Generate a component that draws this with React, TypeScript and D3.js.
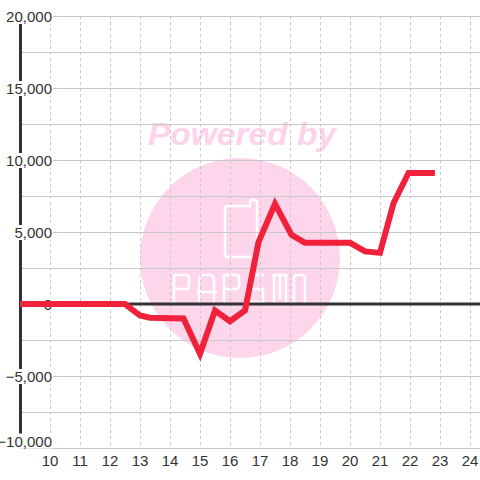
import React from "react";
import * as d3 from "d3";

const xValues = [9, 12.5, 13, 13.33, 14.45, 15, 15.5, 16, 16.5, 16.95, 17.5, 18.05, 18.5, 20, 20.5, 21, 21.45, 21.95, 22.83];
const yValues = [0, 0, -800, -950, -1000, -3450, -450, -1200, -450, 4300, 6950, 4800, 4250, 4250, 3650, 3550, 7000, 9100, 9100];
const xTicks = [10, 11, 12, 13, 14, 15, 16, 17, 18, 19, 20, 21, 22, 23, 24];
const yTicks = [-10000, -5000, 0, 5000, 10000, 15000, 20000];
const yGrid = [-10000, -7500, -5000, -2500, 0, 2500, 5000, 7500, 10000, 12500, 15000, 17500, 20000];

const W = 480;
const H = 480;

const logoLetters = [
  // P
  "M174,304 L174,275 L186,275 Q189,275 189,278 L189,286 Q189,289 186,289 L174,289",
  // A-like
  "M199,304 L199,280 Q199,275 204,275 L209,275 Q214,275 214,280 L214,304 M197,292 L217,292",
  // P
  "M224,304 L224,275 L236,275 Q239,275 239,278 L239,286 Q239,289 236,289 L224,289",
  // S-like
  "M264,275 L252,275 L252,289 L263,289 L263,302 L250,302",
  // M
  "M274,304 L274,275 L286,275 L286,304 M280,275 L280,300",
  // O
  "M294,278 Q294,275 297,275 L302,275 Q305,275 305,278 L305,304 M294,278 L294,304",
];

export default function App() {
  const x = d3.scaleLinear().domain([9, 24.3333]).range([20, 480]);
  const y = d3.scaleLinear().domain([-10000, 20000]).range([448, 16]);
  const fmt = d3.format(",");
  const line = d3
    .line<number>()
    .x((_, i) => x(xValues[i]))
    .y((d) => y(d));
  const font = "'Liberation Sans', Arial, sans-serif";
  return (
    <svg width={W} height={H} style={{ position: "absolute", left: 0, top: 0, background: "#fff" }}>
      <rect x={0} y={0} width={W} height={H} fill="#fff" />
      {/* watermark */}
      <circle cx={240} cy={258} r={100} fill="#fdd6ec" />
      <text
        x={148}
        y={145}
        fontFamily={font}
        fontWeight="bold"
        fontStyle="italic"
        fontSize={32}
        fill="#fcd3ea"
        textLength={188}
        lengthAdjust="spacingAndGlyphs"
      >
        Powered by
      </text>
      <path
        d="M228,206 L250,206 L250,202 Q250,200 252,200 L254,200 Q257,200 257,203 L257,254 Q257,257 254,257 L228,257 Q225,257 225,254 L225,209 Q225,206 228,206 Z"
        fill="none"
        stroke="#fff"
        strokeWidth={2.5}
      />
      {logoLetters.map((d, i) => (
        <path key={"lg" + i} d={d} fill="none" stroke="#fff" strokeWidth={2.5} />
      ))}
      {/* grid */}
      {yGrid.map((v) => (
        <line key={"h" + v} x1={20} x2={480} y1={y(v) + 0.5} y2={y(v) + 0.5} stroke="#c8c8c8" strokeWidth={1} />
      ))}
      {xTicks.map((v) => (
        <line
          key={"v" + v}
          x1={x(v) + 0.5}
          x2={x(v) + 0.5}
          y1={16}
          y2={448}
          stroke="#c8c8c8"
          strokeWidth={1}
          strokeDasharray="3,3"
        />
      ))}
      {/* axes */}
      <line x1={20.5} x2={20.5} y1={16} y2={448} stroke="#333" strokeWidth={3} />
      <line x1={20} x2={480} y1={y(0)} y2={y(0)} stroke="#333" strokeWidth={3} />
      {/* y labels */}
      {yTicks.map((v, i) => {
        const label = fmt(v);
        const w = label.length * 7.6 + 2;
        const base = i === 0 ? y(v) - 1.5 : y(v) + 6;
        return (
          <g key={"yl" + v}>
            <rect x={52 - w} y={base - 13} width={w + 1} height={15} fill="#fff" />
            <text x={52} y={base} textAnchor="end" fontFamily={font} fontSize={15} fill="#333">
              {label}
            </text>
          </g>
        );
      })}
      {/* data line */}
      <path d={line(yValues) || ""} fill="none" stroke="#f0213a" strokeWidth={6} strokeLinejoin="miter" />
      {/* x labels */}
      {xTicks.map((v) => (
        <text key={"xl" + v} x={x(v)} y={466} textAnchor="middle" fontFamily={font} fontSize={15} fill="#333">
          {v}
        </text>
      ))}
    </svg>
  );
}
